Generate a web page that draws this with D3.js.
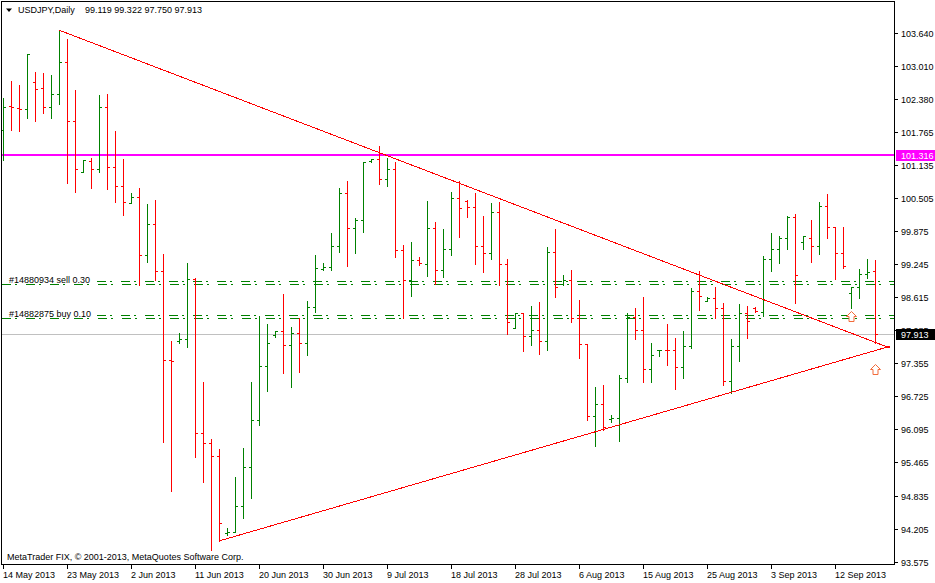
<!DOCTYPE html>
<html>
<head>
<meta charset="utf-8">
<script src="https://cdn.jsdelivr.net/npm/d3@7"></script>
<style>
body { margin: 0; background: #fff; }
svg { display: block; font-family: "Liberation Sans", Arial, sans-serif; font-size: 9px; }
</style>
</head>
<body>
<svg id="chart" width="935" height="583"></svg>
<script>
// USDJPY daily bars, 14 May 2013 .. 18 Sep 2013 (broker has Sunday bars, no Saturdays)
const symbol = "USDJPY,Daily";
const openP = [101.80,102.26,102.21,102.19,102.71,102.60,102.24,102.48,103.09,101.96,
  100.99,101.21,101.05,102.24,101.09,100.74,100.40,100.52,99.42,100.01,
  99.11,97.42,97.77,97.82,98.96,96.02,95.83,95.59,94.13,94.15,
  94.64,95.37,96.27,97.30,97.89,97.96,97.70,97.93,97.75,98.42,
  99.15,99.18,99.59,100.59,99.93,100.08,101.21,101.24,100.86,101.05,
  99.51,98.94,99.32,99.24,99.94,99.13,99.54,100.50,100.45,100.34,
  99.58,99.45,100.23,99.24,98.03,98.31,97.88,97.99,97.78,99.47,
  98.86,98.95,98.22,97.73,96.35,96.57,96.29,96.31,97.07,98.24,
  97.99,97.25,97.60,97.61,97.60,97.28,97.68,98.73,98.54,98.60,
  98.40,97.02,97.68,98.31,98.40,98.33,99.34,99.53,99.74,100.14,
  99.67,99.75,99.59,100.35,99.95,99.45,98.70,98.81,99.06,99.119];
const highP = [102.41,102.73,102.66,103.25,102.90,102.88,102.85,103.70,103.53,102.56,
  101.23,101.26,102.46,102.48,101.78,101.25,100.59,100.69,100.38,100.46,
  99.43,97.77,97.93,99.26,98.97,96.99,95.92,95.72,94.22,95.18,
  95.74,97.00,98.26,98.10,97.97,98.67,98.04,98.21,98.54,99.42,
  99.26,99.83,100.69,100.83,100.13,101.19,101.25,101.49,101.26,101.19,
  99.61,99.66,99.37,100.45,100.04,99.91,100.62,100.83,100.46,100.60,
  100.16,100.41,100.43,99.35,98.31,98.31,98.45,98.52,99.56,99.91,
  99.04,99.13,98.56,97.73,96.91,96.94,96.36,97.13,98.32,98.41,
  98.62,97.75,97.61,98.10,97.84,97.96,98.78,99.11,98.61,98.81,
  98.51,97.82,98.48,98.45,98.42,99.40,99.83,99.78,100.16,100.20,
  99.78,100.08,100.42,100.58,99.95,99.95,98.81,99.15,99.35,99.322];
const lowP = [101.23,101.80,101.78,102.03,101.97,102.12,102.03,102.29,100.79,100.62,
  100.99,100.70,101.00,100.68,100.43,100.18,100.40,98.85,99.29,98.94,
  95.86,94.93,97.75,97.67,95.56,95.10,93.80,93.97,94.08,94.15,
  94.41,94.79,96.18,96.83,97.85,97.17,96.91,97.19,97.51,98.34,
  99.13,99.13,99.48,99.21,99.46,99.85,101.19,100.76,100.74,99.37,
  98.21,98.64,99.23,99.02,98.86,99.00,99.42,99.76,100.15,99.25,
  99.09,99.35,98.85,97.91,98.03,97.59,97.70,97.53,97.61,98.62,
  98.85,98.15,97.46,96.27,95.77,96.08,96.24,95.87,97.00,97.82,
  97.00,97.00,97.49,97.32,96.86,97.08,97.65,98.36,98.54,98.21,
  96.95,96.79,97.40,97.84,98.33,98.26,99.11,99.27,99.53,98.51,
  99.54,99.29,99.44,99.75,98.96,99.16,98.41,98.60,98.97,97.750];
const closeP = [102.24,102.24,102.19,103.24,102.57,102.24,102.48,103.09,101.96,101.05,
  101.22,101.05,102.24,101.09,100.74,100.42,100.52,99.42,100.01,99.11,
  97.42,97.40,97.82,98.96,96.02,95.83,95.59,94.31,94.14,94.64,
  95.37,96.27,97.30,97.74,97.96,97.70,97.93,97.75,98.42,99.16,
  99.18,99.59,100.59,99.93,100.08,101.19,101.24,100.86,101.05,99.51,
  98.94,99.32,99.27,99.94,99.13,99.54,100.50,100.31,100.34,99.58,
  99.45,100.23,99.24,98.14,98.31,97.88,97.99,97.78,99.47,98.81,
  98.95,98.22,97.73,96.35,96.57,96.15,96.31,97.07,98.24,97.99,
  97.25,97.51,97.61,97.60,97.28,97.68,98.73,98.64,98.60,98.40,
  97.02,97.68,98.31,98.16,98.35,99.34,99.53,99.74,100.15,99.04,
  99.77,99.59,100.35,99.95,99.45,99.21,98.81,99.06,99.09,97.913];

const yTicks = [103.640,103.010,102.380,101.765,101.135,100.505,99.875,99.245,98.615,
  97.985,97.355,96.725,96.095,95.465,94.835,94.205,93.575];
const dateTickEvery = 8;

const levelPrice = 101.316;
const bidPrice = 97.913;
const orderLabels = ["#14880934 sell 0.30", "#14882875 buy 0.10"];
const orderPrices = [98.86, 98.21];
const orderPrices2 = [98.93, 98.27];
const upperTrend = [[7, 103.70], [110.8, 97.65]];
const lowerTrend = [[27, 93.97], [110.9, 97.68]];
const arrowMarks = [[106, 98.35], [109, 97.34]];
const copyright = "MetaTrader FIX, \u00a9 2001-2013, MetaQuotes Software Corp.";

// trading days: calendar days minus Saturdays
const dates = d3.timeDay.range(new Date(2013, 4, 14), new Date(2013, 8, 19))
  .filter(d => d.getDay() !== 6);

const plot = {left: 2, top: 2, right: 895, bottom: 565};
const barStep = 8;

const x = d3.scaleLinear()
  .domain([0, dates.length - 1])
  .range([3, 3 + barStep * (dates.length - 1)]);
const y = d3.scaleLinear()
  .domain([93.575, 103.640])
  .range([561.7, 33.3]);

const svg = d3.select("#chart");
const fmt3 = d3.format(".3f");
const fmtDate = d3.timeFormat("%-d %b %Y");

svg.append("rect").attr("width", 935).attr("height", 583).attr("fill", "#fff");

// bid line
svg.append("line")
  .attr("x1", plot.left).attr("x2", plot.right)
  .attr("y1", Math.round(y(bidPrice)) + 0.5).attr("y2", Math.round(y(bidPrice)) + 0.5)
  .attr("stroke", "#c0c0c0");

// magenta level
svg.append("line")
  .attr("x1", plot.left).attr("x2", plot.right)
  .attr("y1", Math.round(y(levelPrice))).attr("y2", Math.round(y(levelPrice)))
  .attr("stroke", "#ff00ff").attr("stroke-width", 2);

// order lines
const dash = "9,4,2,9";
orderLabels.forEach((lab, k) => {
  const y1 = Math.round(y(orderPrices[k])) + 0.5;
  const y2 = Math.round(y(orderPrices2[k])) + 0.5;
  svg.append("line")
    .attr("x1", plot.left).attr("x2", plot.right)
    .attr("y1", y1).attr("y2", y1)
    .attr("stroke", "#008000").attr("stroke-dasharray", dash)
    .attr("shape-rendering", "crispEdges");
  svg.append("line")
    .attr("x1", 97).attr("x2", plot.right)
    .attr("y1", y2).attr("y2", y2)
    .attr("stroke", "#008000").attr("stroke-dasharray", dash)
    .attr("shape-rendering", "crispEdges");
  svg.append("text")
    .attr("x", 9).attr("y", y1 - 2)
    .attr("fill", "#000")
    .text(lab);
});

// bars
const bars = svg.append("g").attr("shape-rendering", "crispEdges");
dates.forEach((d, i) => {
  const xi = Math.round(x(i));
  const col = closeP[i] >= openP[i] ? "#008000" : "#ff0000";
  const yh = Math.round(y(highP[i])), yl = Math.round(y(lowP[i]));
  bars.append("rect")
    .attr("x", xi).attr("y", yh)
    .attr("width", 1).attr("height", Math.max(1, yl - yh + 1))
    .attr("fill", col);
  bars.append("rect")
    .attr("x", xi - 2).attr("y", Math.round(y(openP[i])))
    .attr("width", 2).attr("height", 1)
    .attr("fill", col);
  bars.append("rect")
    .attr("x", xi + 1).attr("y", Math.round(y(closeP[i])))
    .attr("width", 2).attr("height", 1)
    .attr("fill", col);
});

// trend lines
const line = d3.line().x(d => x(d[0])).y(d => y(d[1]));
[upperTrend, lowerTrend].forEach(t => {
  svg.append("path")
    .attr("d", line(t))
    .attr("fill", "none")
    .attr("stroke", "#ff0000")
    .attr("stroke-width", 1)
    .attr("shape-rendering", "crispEdges");
});

// arrows
arrowMarks.forEach(a => {
  const cx = Math.round(x(a[0])) + 0.5, top = Math.round(y(a[1])) + 0.5;
  const p = `M${cx},${top} L${cx + 5},${top + 5} L${cx + 2.5},${top + 5} L${cx + 2.5},${top + 10}
    L${cx - 2.5},${top + 10} L${cx - 2.5},${top + 5} L${cx - 5},${top + 5} Z`;
  svg.append("path").attr("d", p)
    .attr("fill", "#fff").attr("stroke", "#f26b3a").attr("stroke-width", 1);
});

// frame
svg.append("rect")
  .attr("x", plot.left - 0.5).attr("y", plot.top - 0.5)
  .attr("width", plot.right - plot.left).attr("height", plot.bottom - plot.top)
  .attr("fill", "none").attr("stroke", "#000");

// right price axis
const yAxis = svg.append("g");
yTicks.forEach(v => {
  const yy = Math.round(y(v)) + 0.5;
  yAxis.append("line")
    .attr("x1", plot.right).attr("x2", plot.right + 3)
    .attr("y1", yy).attr("y2", yy).attr("stroke", "#000");
  yAxis.append("text")
    .attr("x", 901).attr("y", yy + 3.5)
    .attr("fill", "#000")
    .text(fmt3(v));
});

// price boxes
function priceBox(v, bg) {
  const yy = Math.round(y(v));
  svg.append("rect")
    .attr("x", 896).attr("y", yy - 5)
    .attr("width", 39).attr("height", 11)
    .attr("fill", bg);
  svg.append("text")
    .attr("x", 901).attr("y", yy + 3.5)
    .attr("fill", "#fff")
    .text(fmt3(v));
}
priceBox(levelPrice, "#ff00ff");
priceBox(bidPrice, "#000");

// bottom date axis
const xAxis = svg.append("g");
d3.range(0, dates.length, dateTickEvery).forEach(i => {
  const xx = Math.round(x(i)) + 0.5;
  xAxis.append("line")
    .attr("x1", xx).attr("x2", xx)
    .attr("y1", plot.bottom).attr("y2", plot.bottom + 4)
    .attr("stroke", "#000");
  xAxis.append("text")
    .attr("x", xx - 0.5).attr("y", 578)
    .attr("fill", "#000")
    .text(fmtDate(dates[i]));
});

// header
const last = dates.length - 1;
svg.append("path").attr("d", "M6,8.5 L12,8.5 L9,12 Z").attr("fill", "#000");
svg.append("text").attr("x", 18).attr("y", 13).attr("fill", "#000").text(symbol);
svg.append("text").attr("x", 85).attr("y", 13).attr("fill", "#000")
  .text([openP[last], highP[last], lowP[last], closeP[last]].map(fmt3).join(" "));

svg.append("text").attr("x", 7).attr("y", 560).attr("fill", "#000").text(copyright);
</script>
</body>
</html>
